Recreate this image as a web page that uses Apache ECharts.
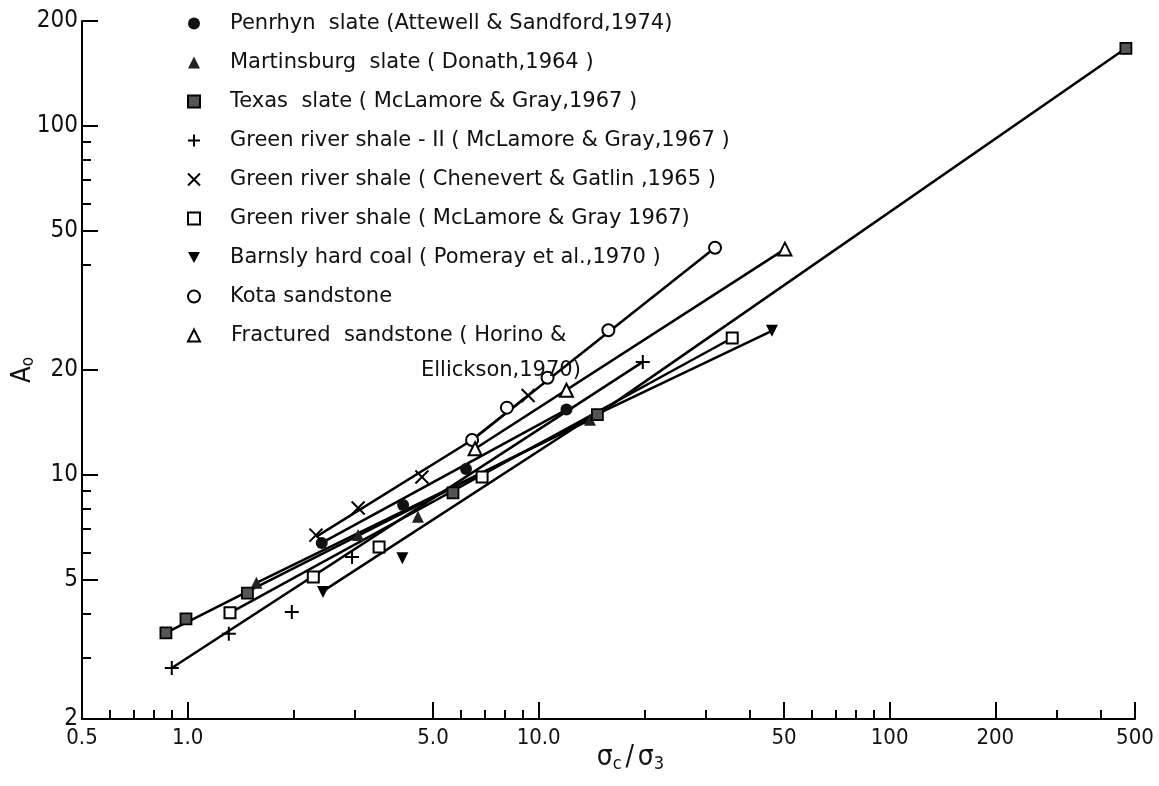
<!DOCTYPE html>
<html>
<head>
<meta charset="utf-8">
<title>A0 vs sigma_c / sigma_3</title>
<script src="https://cdn.jsdelivr.net/npm/echarts@6.0.0/dist/echarts.min.js"></script>
<style>
  html, body { margin: 0; padding: 0; background: #fff; }
  #chart { width: 1159px; height: 786px; }
</style>
</head>
<body>
<div id="chart"></div>
<script>
// axis ticks and labels (data units, the axes are log-log)
const xLabelVals = [0.5, 1, 5, 10, 50, 100, 200, 500]
const xLabelText = ['0.5', '1.0', '5.0', '10.0', '50', '100', '200', '500']
const xMajorTicks = [1, 5, 10, 50, 100, 200, 500]
const xMinorTicks = [0.6, 0.7, 0.8, 0.9, 2, 3, 6, 7, 8, 9, 20, 30, 40, 60, 70, 80, 90, 300, 400]
const yLabelVals = [2, 5, 10, 20, 50, 100, 200]
const yLabelText = ['2', '5', '10', '20', '50', '100', '200']
const yMajorTicks = [5, 10, 20, 50, 100, 200]
const yMinorTicks = [3, 4, 6, 7, 8, 9, 40, 60, 70, 80, 90]

// measured points [sigma_c/sigma_3, A0] and the drawn lines through them
const penrhynPts = [[2.41, 6.39], [4.11, 8.21], [6.21, 10.4], [12.0, 15.4]]
const penrhynFit = [[2.41, 6.39], [12.0, 15.4]]
const martinsburgPts = [[1.57, 4.91], [3.06, 6.73], [4.53, 7.59], [14.0, 14.4]]
const martinsburgFit = [[1.57, 4.91], [14.0, 14.4]]
const texasPts = [[0.867, 3.53], [0.989, 3.87], [1.48, 4.59], [5.70, 8.89], [14.7, 14.9], [471, 167]]
const texasFit = [[0.867, 3.53], [14.7, 14.9], [471, 167]]
const grs2Pts = [[0.901, 2.80], [1.31, 3.51], [1.98, 4.05], [2.94, 5.82], [19.8, 21.1]]
const grs2Fit = [[0.901, 2.80], [19.8, 21.1]]
const chenevertPts = [[2.32, 6.73], [3.06, 8.05], [4.65, 9.87], [9.33, 16.9]]
const chenevertFit = [[2.32, 6.65], [6.46, 12.6], [9.33, 16.9]]
const grsPts = [[1.32, 4.03], [2.28, 5.10], [3.51, 6.22], [6.90, 9.87], [35.6, 24.7]]
const grsFit = [[1.32, 4.03], [35.6, 24.7]]
const barnslyPts = [[2.43, 4.62], [4.09, 5.78], [46.2, 25.9]]
const barnslyFit = [[2.43, 4.65], [14.0, 14.6], [46.2, 25.9]]
const kotaPts = [[6.46, 12.6], [8.12, 15.6], [10.6, 19.0], [15.8, 26.0], [31.8, 44.8]]
const kotaFit = [[6.46, 12.6], [31.8, 44.8]]
const fracturedPts = [[6.59, 11.9], [12.0, 17.5], [50.3, 44.4]]
const fracturedFit = [[6.59, 11.9], [50.3, 44.4]]

const lg = v => Math.log10(v)
const toLog = pts => pts.map(p => [lg(p[0]), lg(p[1])])

const AXIS_FONT = '"Liberation Sans Narrow", "DejaVu Sans Condensed", "DejaVu Sans", sans-serif'
const TEXT_FONT = '"DejaVu Sans", sans-serif'
const plusPath = 'path://M0,6H12M6,0V12'
const crossPath = 'path://M1,1L11,11M11,1L1,11'
const downTriPath = 'path://M0,0L12,0L6,11Z'
const FRACTURED = 'Fractured sandstone ( Horino & Ellickson,1970)'

const materials = [
  { name: 'Penrhyn  slate (Attewell & Sandford,1974)', pts: penrhynPts, fit: penrhynFit, symbol: 'circle', size: 12, color: '#111' },
  { name: 'Martinsburg  slate ( Donath,1964 )', pts: martinsburgPts, fit: martinsburgFit, symbol: 'triangle', size: 12, color: '#222' },
  { name: 'Texas  slate ( McLamore & Gray,1967 )', pts: texasPts, fit: texasFit, symbol: 'rect', size: 11, color: '#555', border: '#000', bw: 1.8 },
  { name: 'Green river shale - II ( McLamore & Gray,1967 )', pts: grs2Pts, fit: grs2Fit, symbol: plusPath, size: 14, color: '#000', border: '#000', bw: 2 },
  { name: 'Green river shale ( Chenevert & Gatlin ,1965 )', pts: chenevertPts, fit: chenevertFit, symbol: crossPath, size: 13, color: '#000', border: '#000', bw: 2 },
  { name: 'Green river shale ( McLamore & Gray 1967)', pts: grsPts, fit: grsFit, symbol: 'rect', size: 11, color: '#fff', border: '#000', bw: 2 },
  { name: 'Barnsly hard coal ( Pomeray et al.,1970 )', pts: barnslyPts, fit: barnslyFit, symbol: downTriPath, size: 12, color: '#000' },
  { name: 'Kota sandstone', pts: kotaPts, fit: kotaFit, symbol: 'circle', size: 12, color: '#fff', border: '#000', bw: 2 },
  { name: FRACTURED, pts: fracturedPts, fit: fracturedFit, symbol: 'triangle', size: 13, color: '#fff', border: '#000', bw: 2 }
]

const series = []
materials.forEach(m => {
  series.push({
    name: m.name + ' line',
    type: 'line',
    data: toLog(m.fit),
    symbol: 'none',
    silent: true,
    z: 2,
    lineStyle: { color: '#000', width: 2.5 }
  })
})
materials.forEach(m => {
  series.push({
    name: m.name,
    type: 'scatter',
    data: toLog(m.pts),
    symbol: m.symbol,
    symbolSize: m.size,
    z: 3,
    itemStyle: { color: m.color, borderColor: m.border || m.color, borderWidth: m.bw || 0, opacity: 1 }
  })
})

const tickLine = { color: '#000', width: 2 }

const chart = echarts.init(document.getElementById('chart'))
chart.setOption({
  animation: false,
  backgroundColor: '#fff',
  textStyle: { fontFamily: TEXT_FONT },
  grid: { left: 82, right: 24, top: 21, bottom: 67, outerBoundsMode: 'none' },
  legend: {
    // the last entry wraps: its second line hangs below without moving the icon
    data: materials.map(m => m.name === FRACTURED
      ? { name: m.name, textStyle: { padding: [0, 0, -50, 26] } }
      : { name: m.name }),
    orient: 'vertical',
    left: 182,
    top: 8,
    itemWidth: 12,
    itemHeight: 12,
    itemGap: 18,
    selectedMode: false,
    formatter: name => name === FRACTURED
      ? '{t|Fractured  sandstone ( Horino &}\n{gap|}{u|Ellickson,1970)}'
      : name,
    textStyle: {
      fontFamily: TEXT_FONT,
      fontSize: 21,
      lineHeight: 20,
      color: '#111',
      padding: [0, 0, 0, 25],
      rich: {
        t: { fontFamily: TEXT_FONT, fontSize: 21, lineHeight: 20, color: '#111' },
        gap: { width: 190, lineHeight: 50 },
        u: { fontFamily: TEXT_FONT, fontSize: 21, lineHeight: 50, color: '#111' }
      }
    }
  },
  xAxis: [
    {
      type: 'value',
      min: lg(0.5),
      max: lg(500),
      position: 'bottom',
      name: '{s|σ}{b|c} {s|/} {s|σ}{b|3}',
      nameLocation: 'middle',
      nameGap: 24,
      nameMoveOverlap: false,
      nameTextStyle: {
        padding: [0, 0, 0, 44],
        rich: {
          s: { fontFamily: AXIS_FONT, fontSize: 28, lineHeight: 30, color: '#111' },
          b: { fontFamily: AXIS_FONT, fontSize: 18, lineHeight: 18, color: '#111', verticalAlign: 'bottom' }
        }
      },
      axisLine: { show: true, onZero: false, lineStyle: tickLine },
      axisTick: { show: true, inside: true, length: 17, customValues: xMajorTicks.map(lg), lineStyle: tickLine },
      axisLabel: {
        customValues: xLabelVals.map(lg),
        formatter: v => {
          const i = xLabelVals.findIndex(t => Math.abs(lg(t) - v) < 1e-6)
          return i >= 0 ? xLabelText[i] : ''
        },
        margin: 8,
        fontSize: 22,
        fontFamily: AXIS_FONT,
        color: '#111'
      },
      splitLine: { show: false }
    },
    {
      type: 'value',
      min: lg(0.5),
      max: lg(500),
      position: 'bottom',
      axisLine: { show: false, onZero: false },
      axisTick: { show: true, inside: true, length: 9, customValues: xMinorTicks.map(lg), lineStyle: tickLine },
      axisLabel: { show: false },
      splitLine: { show: false }
    }
  ],
  yAxis: [
    {
      type: 'value',
      min: lg(2),
      max: lg(200),
      position: 'left',
      name: '{a|A}{o|o}',
      nameLocation: 'middle',
      nameRotate: 90,
      nameGap: 45,
      nameMoveOverlap: false,
      nameTextStyle: {
        rich: {
          a: { fontFamily: AXIS_FONT, fontSize: 27, lineHeight: 28, color: '#111' },
          o: { fontFamily: AXIS_FONT, fontSize: 17, lineHeight: 17, color: '#111', verticalAlign: 'bottom' }
        }
      },
      axisLine: { show: true, onZero: false, lineStyle: tickLine },
      axisTick: { show: true, inside: true, length: 16, customValues: yMajorTicks.map(lg), lineStyle: tickLine },
      axisLabel: {
        customValues: yLabelVals.map(lg),
        formatter: v => {
          const i = yLabelVals.findIndex(t => Math.abs(lg(t) - v) < 1e-6)
          return i >= 0 ? yLabelText[i] : ''
        },
        margin: 4,
        fontSize: 24,
        fontFamily: AXIS_FONT,
        color: '#111'
      },
      splitLine: { show: false }
    },
    {
      type: 'value',
      min: lg(2),
      max: lg(200),
      position: 'left',
      axisLine: { show: false, onZero: false },
      axisTick: { show: true, inside: true, length: 9, customValues: yMinorTicks.map(lg), lineStyle: tickLine },
      axisLabel: { show: false },
      splitLine: { show: false }
    }
  ],
  series: series
})
</script>
</body>
</html>
